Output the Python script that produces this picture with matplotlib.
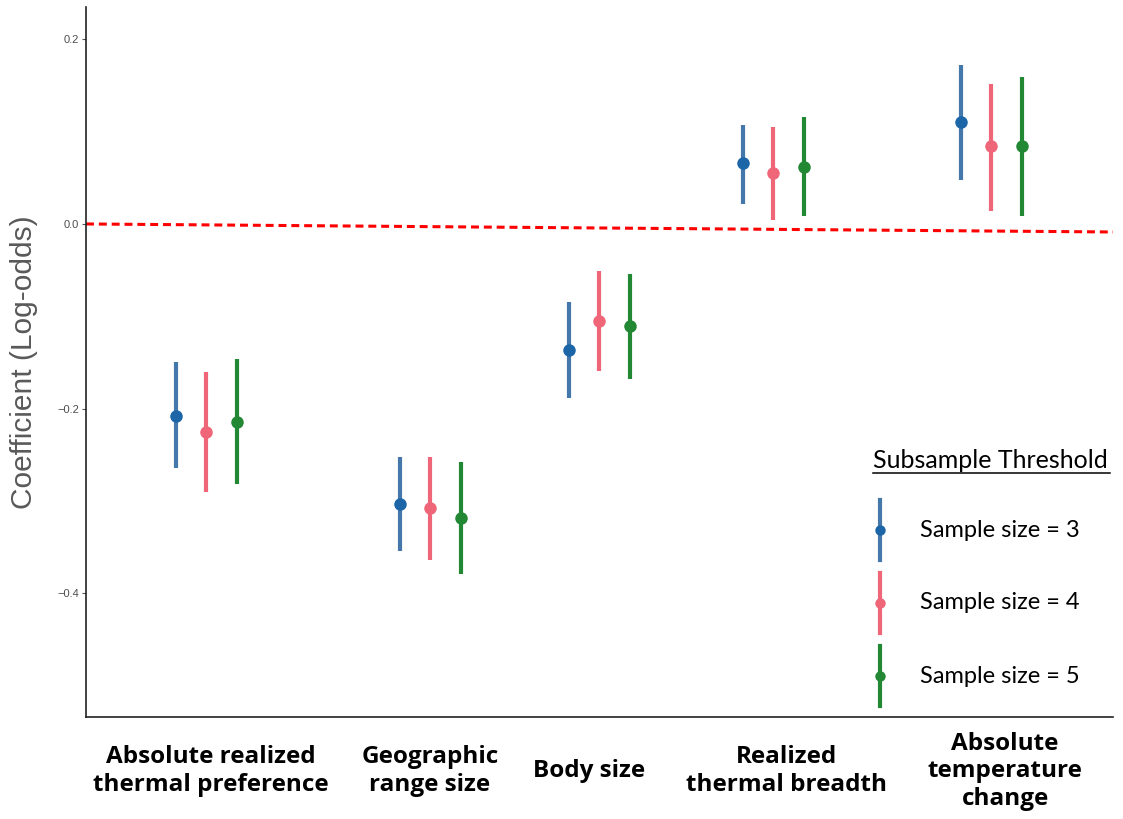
import numpy as np
import matplotlib.pyplot as plt
from matplotlib.lines import Line2D

# predictors and estimates for each subsample threshold
predictors = ["Absolute realized\nthermal preference", "Geographic\nrange size", "Body size",
              "Realized\nthermal breadth", "Absolute\ntemperature\nchange"]
thresholds = ["Sample size = 3", "Sample size = 4", "Sample size = 5"]

est_3 = [-0.2075, -0.303, -0.136, 0.066, 0.110]
lo_3 = [-0.264, -0.354, -0.188, 0.022, 0.048]
hi_3 = [-0.150, -0.252, -0.084, 0.107, 0.172]

est_4 = [-0.225, -0.308, -0.105, 0.055, 0.084]
lo_4 = [-0.290, -0.364, -0.159, 0.004, 0.014]
hi_4 = [-0.160, -0.252, -0.051, 0.105, 0.152]

est_5 = [-0.214, -0.318, -0.111, 0.062, 0.084]
lo_5 = [-0.282, -0.379, -0.168, 0.009, 0.009]
hi_5 = [-0.146, -0.258, -0.054, 0.116, 0.159]

yticks = [-0.4, -0.2, 0.0, 0.2]

# layout
centers = np.array([1.20, 3.44, 5.13, 6.87, 9.05])
label_pos = np.array([1.25, 3.44, 5.03, 7.00, 9.19])
dodge = [-0.30, 0.0, 0.305]
line_cols = ["#4477AA", "#EE6677", "#228833"]
dot_cols = ["#1C66A8", "#EE6677", "#228833"]

fig = plt.figure(figsize=(11.23, 8.19), dpi=100)
ax = fig.add_axes([0.0766, 0.1245, 0.9145, 0.867])

series = [(est_3, lo_3, hi_3), (est_4, lo_4, hi_4), (est_5, lo_5, hi_5)]
for (est, lo, hi), dx, lc, dc in zip(series, dodge, line_cols, dot_cols):
    xs = centers + dx
    ax.vlines(xs, lo, hi, color=lc, lw=3.0, zorder=3)
    ax.plot(xs, est, "o", color=dc, ms=9, zorder=4, markeredgewidth=0)

# reference line at zero
ax.plot([0, 10.27], [0.0, -0.0087], ls=(0, (2.6, 1.6)), color="red", lw=2.2, zorder=2)

ax.set_xlim(0, 10.27)
ax.set_ylim(-0.534, 0.235)
ax.set_yticks(yticks)
ax.set_yticklabels([f"{v:.1f}".replace("-", "\u2212") for v in yticks])
ax.tick_params(axis="y", length=3, width=0.8, color="#555555", labelsize=8,
               labelcolor="#4d4d4d", pad=2)
for lab in ax.get_yticklabels():
    lab.set_family("Liberation Sans")

ax.set_xticks(label_pos)
ax.set_xticklabels(predictors, fontsize=17.5, fontweight="bold", family="Open Sans",
                   va="center", linespacing=1.2)
ax.tick_params(axis="x", length=0, pad=39)

ax.set_ylabel("Coefficient (Log-odds)", fontsize=21.5, color="#595959",
              family="Liberation Sans")
ax.yaxis.set_label_coords(-0.047, 0.5)

for s in ["top", "right"]:
    ax.spines[s].set_visible(False)
for s in ["left", "bottom"]:
    ax.spines[s].set_linewidth(1.2)
    ax.spines[s].set_color("#222222")

# legend drawn by hand
ax.text(0.766, 0.3606, "Subsample Threshold", transform=ax.transAxes, fontsize=18,
        family="Lato", va="center", ha="left")
ax.add_line(Line2D([0.766, 0.997], [0.3437, 0.3437], transform=ax.transAxes,
                   color="black", lw=1.1, clip_on=False))
key_y = [0.2634, 0.1606, 0.0577]
for ky, lab, lc, dc in zip(key_y, thresholds, line_cols, dot_cols):
    ax.add_line(Line2D([0.773, 0.773], [ky - 0.0423, ky + 0.0423], transform=ax.transAxes,
                       color=lc, lw=3.0, clip_on=False))
    ax.plot([0.773], [ky], "o", color=dc, ms=7.5, transform=ax.transAxes,
            clip_on=False, markeredgewidth=0)
    ax.text(0.812, ky, lab, transform=ax.transAxes, fontsize=17, family="Lato",
            va="center", ha="left")

plt.savefig("out.png", dpi=100)
